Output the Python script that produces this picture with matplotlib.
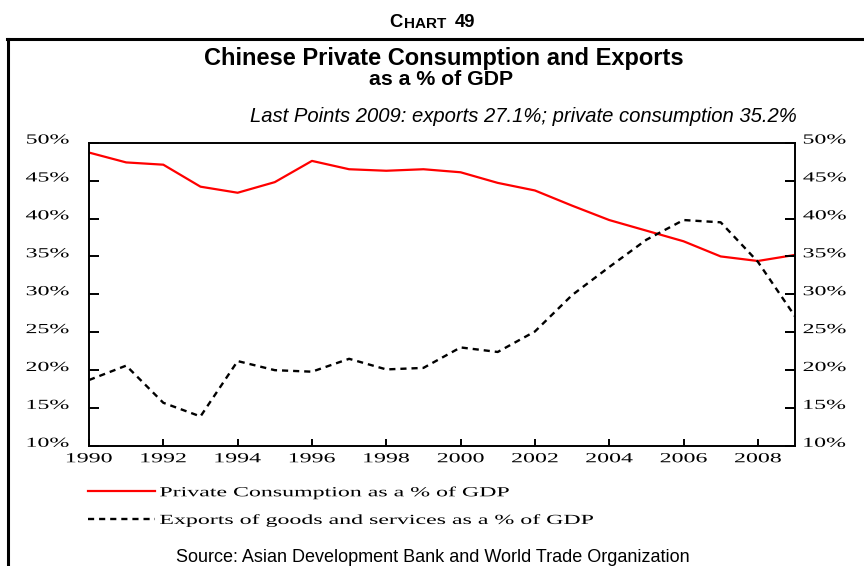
import matplotlib
matplotlib.use("Agg")
import matplotlib.pyplot as plt
from matplotlib.lines import Line2D
from matplotlib.transforms import ScaledTranslation, Affine2D
from matplotlib.patheffects import AbstractPathEffect
from matplotlib.ticker import FuncFormatter

# Chinese private consumption and exports, % of GDP
years = list(range(1990, 2010))
private_consumption = [48.7, 47.4, 47.1, 44.2, 43.4, 44.8, 47.6, 46.5, 46.3, 46.5,
                       46.1, 44.7, 43.7, 41.7, 39.8, 38.4, 37.0, 35.0, 34.4, 35.2]
exports = [18.7, 20.6, 15.7, 13.9, 21.2, 20.0, 19.8, 21.5, 20.1, 20.3,
           23.0, 22.4, 25.1, 29.9, 33.6, 37.2, 39.8, 39.5, 34.3, 27.1]
x_ticks = list(range(1990, 2010, 2))
y_ticks = [10, 15, 20, 25, 30, 35, 40, 45, 50]


class HStretch(AbstractPathEffect):
    """Widen glyphs horizontally about a left/center/right anchor."""

    def __init__(self, sx, anchor="left"):
        super().__init__()
        self.sx = sx
        self.anchor = anchor

    def draw_path(self, renderer, gc, tpath, affine, rgbFace=None):
        ext = tpath.get_extents(affine)
        if self.anchor == "left":
            x0 = ext.x0
        elif self.anchor == "right":
            x0 = ext.x1
        else:
            x0 = 0.5 * (ext.x0 + ext.x1)
        new = affine + Affine2D().translate(-x0, 0).scale(self.sx, 1).translate(x0, 0)
        renderer.draw_path(gc, tpath, new, rgbFace)


W, H = 864, 566
fig = plt.figure(figsize=(W / 100, H / 100), dpi=100)

serif = "Liberation Serif"
sans = ["Liberation Sans", "DejaVu Sans"]
SX = 1.72
TICK_SIZE = 10

ax = fig.add_axes([89 / W, 1 - 446 / H, (795 - 89) / W, (446 - 142.7) / H])
ax.plot(years, private_consumption, color="#ff0000", lw=1.6,
        label="Private Consumption as a % of GDP")
ax.plot(years, exports, color="black", lw=1.7, ls=(0, (2.6, 2.1)),
        label="Exports of goods and services as a % of GDP")

ax.set_xlim(1990, 2009)
ax.set_ylim(10, 50)
ax.set_xticks(x_ticks)
ax.set_yticks(y_ticks)
pct = FuncFormatter(lambda v, p: f"{v:.0f}%")
ax.yaxis.set_major_formatter(pct)
for s in ax.spines.values():
    s.set_linewidth(1.4)
ax.tick_params(axis="x", direction="in", length=5, width=1.4,
               labelsize=TICK_SIZE, pad=4.5)
ax.tick_params(axis="y", direction="in", length=7, width=1.4,
               labelsize=TICK_SIZE, pad=14.4)

# right-hand copy of the percentage scale
ax_r = ax.twinx()
ax_r.set_ylim(ax.get_ylim())
ax_r.set_yticks(y_ticks)
ax_r.yaxis.set_major_formatter(pct)
ax_r.tick_params(axis="y", direction="in", length=7, width=1.4,
                 labelsize=TICK_SIZE, pad=5.8)
for s in ax_r.spines.values():
    s.set_visible(False)
ax.yaxis.tick_left()
ax.tick_params(axis="y", direction="in", length=7, width=1.4, right=True)

shift = ScaledTranslation(0, 3 / 72, fig.dpi_scale_trans)
for t in ax.xaxis.get_major_ticks():
    t.label1.set_fontfamily(serif)
    t.label1.set_path_effects([HStretch(SX, "center")])
for t in ax.yaxis.get_major_ticks():
    t.label1.set_fontfamily(serif)
    t.label1.set_path_effects([HStretch(SX, "right")])
    t.label1.set_transform(t.label1.get_transform() + shift)
for t in ax_r.yaxis.get_major_ticks():
    t.label2.set_fontfamily(serif)
    t.label2.set_path_effects([HStretch(SX, "left")])
    t.label2.set_transform(t.label2.get_transform() + shift)

leg = fig.legend(handles=ax.get_lines(), loc="upper left",
                 bbox_to_anchor=(88 / W, 1 - 485.5 / H), frameon=False,
                 borderpad=0, borderaxespad=0,
                 handlelength=4.8, handletextpad=0.36, labelspacing=1.0,
                 prop={"family": serif, "size": TICK_SIZE})
for txt in leg.get_texts():
    txt.set_path_effects([HStretch(SX, "left")])

# outer frame
fig.add_artist(Line2D([8 / W, 8 / W], [0, 1 - 39 / H], transform=fig.transFigure,
                      color="black", lw=2.2))
fig.add_artist(Line2D([7 / W, 1.0], [1 - 39 / H, 1 - 39 / H], transform=fig.transFigure,
                      color="black", lw=2.2))

# chart number in small capitals
t1 = fig.text(389.5 / W, 1 - 26.7 / H, "C", family=sans, weight="bold", size=13.3,
              va="baseline", ha="left")
t2 = fig.add_artist(plt.Annotation(
    "HART", xy=(1, 0), xycoords=t1, xytext=(0.6, 0), textcoords="offset points",
    family=sans, weight="bold", size=11, va="bottom", annotation_clip=False))
t3 = fig.add_artist(plt.Annotation(
    "49", xy=(1, 0), xycoords=t2, xytext=(6, 0), textcoords="offset points",
    family=sans, weight="bold", size=13.3, va="bottom", annotation_clip=False))

fig.text(444 / W, 1 - 58 / H, "Chinese Private Consumption and Exports",
         family=sans, weight="bold", size=17, ha="center", va="center")
fig.text(441 / W, 1 - 79.5 / H, "as a % of GDP",
         family=sans, weight="bold", size=15.3, ha="center", va="center")
fig.text(797 / W, 1 - 116 / H,
         "Last Points 2009: exports 27.1%; private consumption 35.2%",
         family=sans, style="italic", size=14.6, ha="right", va="center")
fig.text(433 / W, 1 - 557.5 / H,
         "Source: Asian Development Bank and World Trade Organization",
         family=sans, size=13, ha="center", va="center")

fig.savefig("out.png", dpi=100)
